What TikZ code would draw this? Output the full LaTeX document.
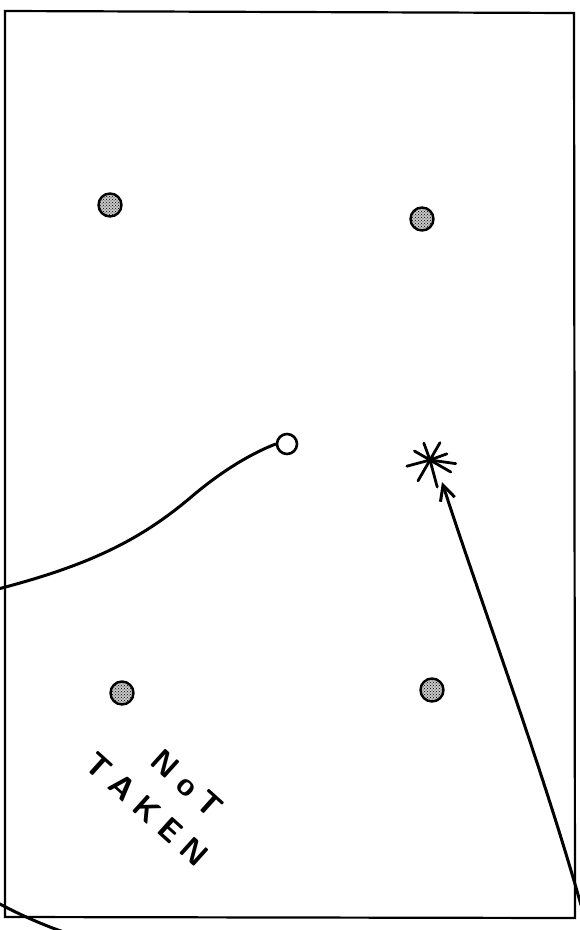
\documentclass[tikz,border=0pt]{standalone}
\usepackage{tikz}
\usetikzlibrary{arrows.meta,patterns,calc}

\tikzset{
  pin/.style={circle, draw, line width=2.4pt, minimum size=23pt, inner sep=0pt,
    preaction={fill=gray!45}, pattern=crosshatch dots},
  hole/.style={circle, draw, line width=2.6pt, fill=white, minimum size=20pt, inner sep=0pt},
  track/.style={line width=3pt, line cap=round},
  scrawl/.style={font=\sffamily\bfseries\fontsize{32}{46}\selectfont, inner sep=0pt, align=left}
}
\newcommand{\gap}{\hspace{9pt}}

\begin{document}
\begin{tikzpicture}[x=1pt, y=-1pt, >={Straight Barb[length=15pt, width=15pt, line width=3pt]}]
\useasboundingbox (0,0) rectangle (579,930);
% outline
\draw[line width=2.2pt] (5,11) -- (574,13) -- (575,918) -- (5,917) -- cycle;

% the four pins
\node[pin] (p1) at (110,205) {};
\node[pin] (p2) at (422,219) {};
\node[pin] (p3) at (122,693) {};
\node[pin] (p4) at (432,690) {};

% ball in the hole, and the shot that went in
\node[hole] (ball) at (287,444) {};
\coordinate (tee) at (-2,589);
\draw[track] (tee) .. controls (90,565) and (140,540) .. (190,498)
  .. controls (225,468) and (255,452) .. (ball.west);

% marker and the shot coming to it
\node[inner sep=0pt, minimum size=4pt] (mark) at (430,460) {};
\foreach \a/\r in {8/26, 75/28, 30/24, 120/24, 165/24, 210/18, 250/18, 300/20, 340/18}
  \draw[line width=2.8pt, line cap=round] (mark.center) -- ++(\a:\r);
\coordinate (start) at (581,905);
\draw[track, ->] (start) .. controls (540,760) and (480,600) .. ($(mark)+(12,22)$);

% stray stroke at the corner
\draw[track] (-2,903) .. controls (20,915) and (50,928) .. (70,934);

% note by the third pin
\node[scrawl, rotate=-42] (note) at (162,792) {\hspace{48pt}N\gap o\gap T\\T\gap A\gap K\gap E\gap N};
\end{tikzpicture}
\end{document}
